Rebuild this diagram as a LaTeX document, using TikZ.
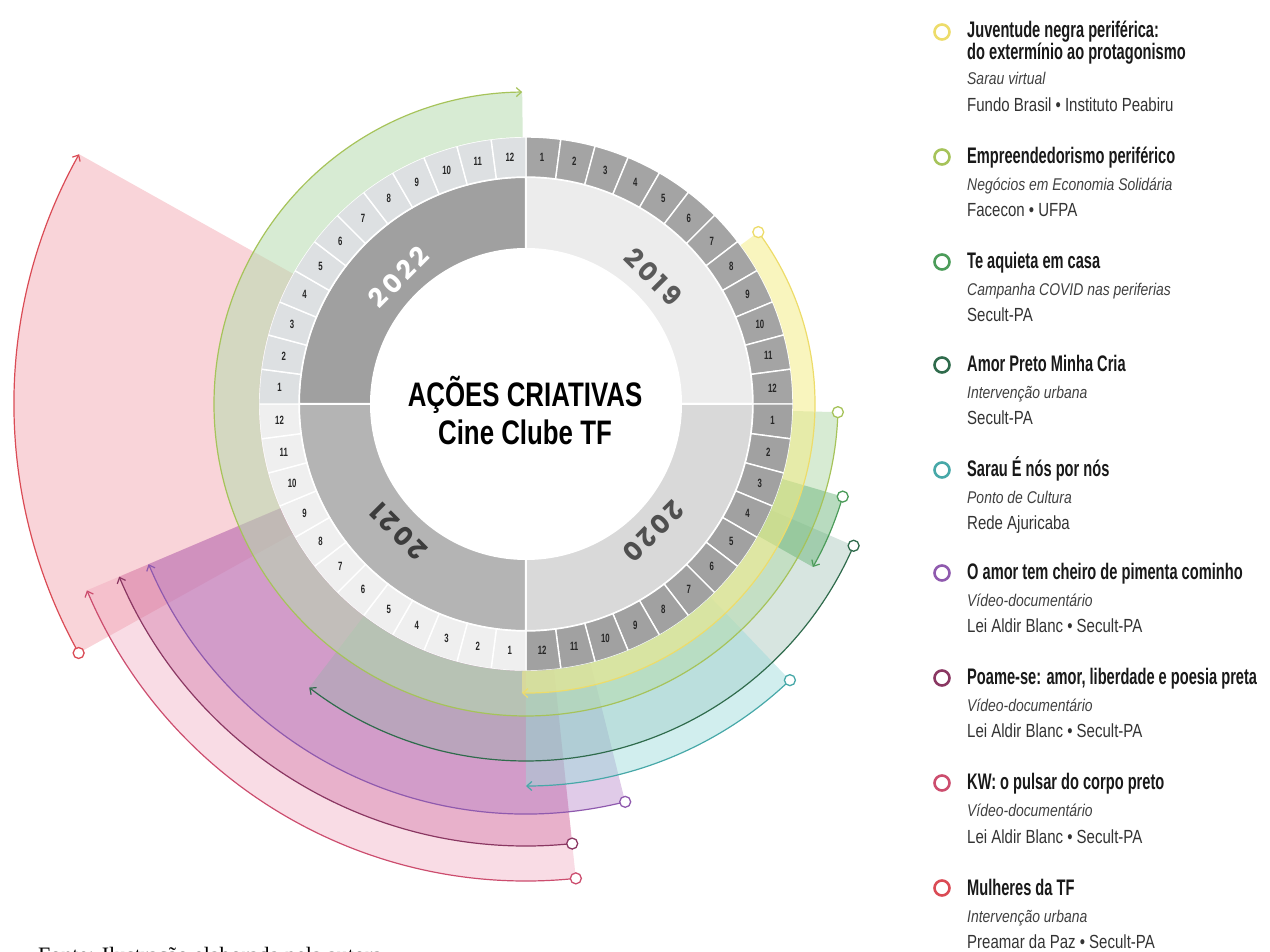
\documentclass[tikz,border=0pt]{standalone}
\usepackage{fontspec}
\usepackage{tikz}
\usetikzlibrary{arrows.meta,shapes}
\setmainfont{Liberation Serif}
\newfontfamily\narrowfont[FakeStretch=0.65]{Liberation Sans}
\newfontfamily\headfont[FakeStretch=0.76]{Liberation Sans}
\newfontfamily\kindfont[FakeStretch=0.82]{Liberation Sans}
\newfontfamily\orgfont[FakeStretch=0.79]{Liberation Sans}
\newfontfamily\yearfont[LetterSpace=14]{Poppins}

\definecolor{yr19}{HTML}{ECECEC}
\definecolor{yr20}{HTML}{D9D9D9}
\definecolor{yr21}{HTML}{B4B4B4}
\definecolor{yr22}{HTML}{A0A0A0}
\definecolor{mo19}{HTML}{A4A4A4}
\definecolor{mo20}{HTML}{A1A1A1}
\definecolor{mo21}{HTML}{EFEFEF}
\definecolor{mo22}{HTML}{DDE0E2}
\definecolor{yt19}{HTML}{5A5A5A}
\definecolor{yt20}{HTML}{4F4F4F}
\definecolor{yt21}{HTML}{3C3C3C}
\definecolor{yt22}{HTML}{FFFFFF}
\definecolor{juvline}{HTML}{EDDC6A}
\definecolor{empline}{HTML}{A6C35A}
\definecolor{aquline}{HTML}{4C9C5A}
\definecolor{amoline}{HTML}{2F6B4C}
\definecolor{sarline}{HTML}{47A8A8}
\definecolor{pimline}{HTML}{8F5AAE}
\definecolor{poaline}{HTML}{8A3762}
\definecolor{kwline}{HTML}{CC4D6E}
\definecolor{mulline}{HTML}{DA4B55}
\definecolor{juvfill}{HTML}{F4EC88}
\definecolor{empfill}{HTML}{B6DBAE}
\definecolor{aqufill}{HTML}{62B072}
\definecolor{amofill}{HTML}{8DB4A6}
\definecolor{sarfill}{HTML}{9ADADA}
\definecolor{pimfill}{HTML}{B27CC6}
\definecolor{poafill}{HTML}{C9629A}
\definecolor{kwfill}{HTML}{EE9BB5}
\definecolor{mulfill}{HTML}{F2A0AA}

\tikzstyle{yearpart}=[draw=white, line width=2pt]
\tikzstyle{monthcell}=[draw=white, line width=1.4pt]
\tikzstyle{monthnum}=[font=\narrowfont\bfseries\fontsize{12}{12}\selectfont, text=black!85, inner sep=0pt]
\tikzstyle{yearlabel}=[font=\yearfont\bfseries\fontsize{26}{26}\selectfont, inner sep=0pt]
\tikzstyle{headline}=[font=\headfont\bfseries\fontsize{34}{34}\selectfont, anchor=base, inner sep=0pt]
\tikzstyle{track}=[line width=1.2pt, -{Straight Barb[length=5pt,width=9pt]}]
\tikzstyle{startdot}=[circle, draw, fill=white, line width=1.3pt, minimum size=11pt, inner sep=0pt]
\tikzstyle{keyring}=[circle, draw, line width=2.6pt, minimum size=15pt, inner sep=0pt]
\tikzstyle{keytitle}=[anchor=base west, inner sep=0pt, font=\narrowfont\bfseries\fontsize{22.5}{22.5}\selectfont, text=black!90]
\tikzstyle{keykind}=[anchor=base west, inner sep=0pt, font=\kindfont\itshape\fontsize{17}{17}\selectfont, text=black!75]
\tikzstyle{keyorg}=[anchor=base west, inner sep=0pt, font=\orgfont\fontsize{19}{19}\selectfont, text=black!80]

\begin{document}
\begin{tikzpicture}[x=1pt,y=1pt]
    \useasboundingbox (-526,-548) rectangle (744,404);

    % First we draw the four years
    \foreach \a/\col in {0/yr19, -90/yr20, -180/yr21, 90/yr22}
        \path[yearpart, fill=\col] (\a:155) arc[start angle=\a, end angle=\a+90, radius=155pt] -- ({\a+90}:227) arc[start angle=\a+90, end angle=\a, radius=227pt] -- cycle;

    % Then the twelve months of every year
    \foreach \yq/\cellcol in {0/mo19, 1/mo20, 2/mo21, 3/mo22}
        \foreach \mon in {1,...,12}
        {
            \pgfmathsetmacro{\sa}{90-90*\yq-7.5*(\mon-1)}
            \pgfmathsetmacro{\ea}{\sa-7.5}
            \path[monthcell, fill=\cellcol] (\sa:227) arc[start angle=\sa, end angle=\ea, radius=227pt] -- (\ea:267) arc[start angle=\ea, end angle=\sa, radius=267pt] -- cycle;
            \node[monthnum] (m\yq-\mon) at ({\sa-3.75}:247) {\mon};
        }

    % Year labels and title
    \foreach \ang/\rot/\yr/\col in {45/-45/2019/yt19, -45/-135/2020/yt20, -135/135/2021/yt21, 135/45/2022/yt22}
        \node[yearlabel, text=\col, rotate=\rot] (y\yr) at (\ang:180) {\yr};
    \node[headline] (head1) at (-1,-3) {AÇÕES CRIATIVAS};
    \node[headline] (head2) at (-1,-41) {Cine Clube TF};

    % Bands of the actions, widest first
    \foreach \nm/\sa/\ea/\rad/\op in {mul/-150.9/-209.2/512/0.45, kw/-84/-157/477/0.35, poa/-84/-157/442/0.35, pim/-76/-157/410/0.4, amo/-23.4/-127.4/357/0.35, sar/-46.3/-90/382/0.45, emp/-1.5/-269.3/312/0.55, aqu/-16.3/-29.6/330/0.45, juv/36.5/-90.8/289/0.55}
        \fill[\nm fill, opacity=\op] (\sa:267) arc[start angle=\sa, end angle=\ea, radius=267pt] -- (\ea:\rad) arc[start angle=\ea, end angle=\sa, radius=\rad pt] -- cycle;

    % Connect start and end of every action
    \foreach \nm/\sa/\ea/\rad in {mul/-150.9/-209.2/512, kw/-84/-157/477, poa/-84/-157/442, pim/-76/-157/410, amo/-23.4/-127.4/357, sar/-46.3/-90/382, emp/-1.5/-269.3/312, aqu/-16.3/-29.6/330, juv/36.5/-90.8/289}
    {
        \coordinate (s\nm) at (\sa:\rad);
        \draw[track, \nm line] (s\nm) arc[start angle=\sa, end angle=\ea, radius=\rad pt] coordinate (e\nm);
        \node[startdot, draw=\nm line] (d\nm) at (s\nm) {};
    }

    % Legend
    \node[keyring, draw=juvline] (kjuv) at (416,372) {};
    \node[keytitle] (tjuv) at (441,366) {Juventude negra periférica:};
    \node[keytitle] (tjuv2) at (441,344) {do extermínio ao protagonismo};
    \node[keykind] (ijuv) at (441,319) {Sarau virtual};
    \node[keyorg] (ojuv) at (441,292) {Fundo Brasil • Instituto Peabiru};
    \foreach \nm/\y/\txt/\kind/\org in {{emp/247/Empreendedorismo periférico/Negócios em Economia Solidária/Facecon • UFPA},
        {aqu/142/Te aquieta em casa/Campanha COVID nas periferias/Secult-PA},
        {amo/39/Amor Preto Minha Cria/Intervenção urbana/Secult-PA},
        {sar/-66/Sarau É nós por nós/Ponto de Cultura/Rede Ajuricaba},
        {pim/-169/O amor tem cheiro de pimenta cominho/Vídeo-documentário/Lei Aldir Blanc • Secult-PA},
        {poa/-274/Poame-se: amor, liberdade e poesia preta/Vídeo-documentário/Lei Aldir Blanc • Secult-PA},
        {kw/-379/KW: o pulsar do corpo preto/Vídeo-documentário/Lei Aldir Blanc • Secult-PA},
        {mul/-484/Mulheres da TF/Intervenção urbana/Preamar da Paz • Secult-PA}}
    {
        \node[keyring, draw=\nm line] (k\nm) at (416,\y) {};
        \node[keytitle] (t\nm) at (441,{\y-7}) {\txt};
        \node[keykind] (i\nm) at (441,{\y-34}) {\kind};
        \node[keyorg] (o\nm) at (441,{\y-60}) {\org};
    }

    \node[anchor=base west, inner sep=0pt, font=\fontsize{22}{22}\selectfont] (fonte) at (-488,-558) {Fonte: Ilustração elaborada pela autora.};
\end{tikzpicture}
\end{document}
